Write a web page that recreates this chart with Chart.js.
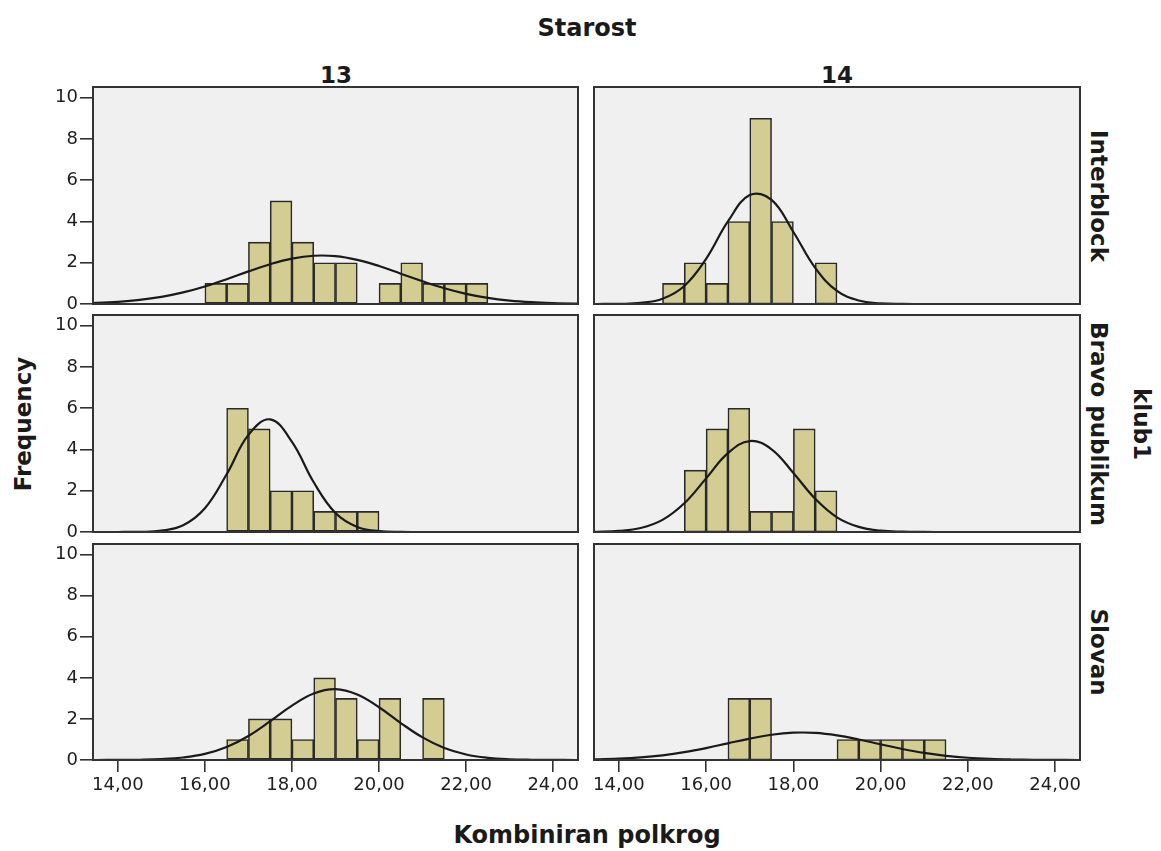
<!DOCTYPE html>
<html>
<head>
<meta charset="utf-8">
<script src="https://cdn.jsdelivr.net/npm/chart.js@4.4.1/dist/chart.umd.min.js"></script>
<style>
  body { margin: 0; background: #fff; width: 1161px; height: 851px; position: relative; overflow: hidden;
         font-family: "DejaVu Sans", sans-serif; color: #1a1a1a; }
  canvas { position: absolute; }
  .lbl { position: absolute; font-weight: bold; white-space: nowrap; line-height: 1;
         transform: translate(-50%, -50%); }
  .cw { transform: translate(-50%, -50%) rotate(90deg); }
  .ccw { transform: translate(-50%, -50%) rotate(-90deg); }
</style>
</head>
<body>
<div class="lbl" style="left:587px; top:28px; font-size:24px">Starost</div>
<div class="lbl" id="col0" style="left:336px; top:75px; font-size:23px"></div>
<div class="lbl" id="col1" style="left:837px; top:75px; font-size:23px"></div>
<div class="lbl cw" id="row0" style="left:1098px; top:196px; font-size:23px"></div>
<div class="lbl cw" id="row1" style="left:1098px; top:424px; font-size:23px"></div>
<div class="lbl cw" id="row2" style="left:1098px; top:652px; font-size:23px"></div>
<div class="lbl cw" style="left:1141px; top:424px; font-size:23px">klub1</div>
<div class="lbl ccw" style="left:23px; top:424px; font-size:23px">Frequency</div>
<div class="lbl" style="left:587px; top:835px; font-size:24px">Kombiniran polkrog</div>

<script>
// facets
const ageGroups = ['13', '14'];
const clubs = ['Interblock', 'Bravo publikum', 'Slovan'];

// histogram bins (left edges), width 0.5
const binStarts = [15.0, 15.5, 16.0, 16.5, 17.0, 17.5, 18.0, 18.5, 19.0, 19.5, 20.0, 20.5, 21.0, 21.5, 22.0];
const binWidth = 0.5;

// frequencies per bin
const interblock13 = [0, 0, 1, 1, 3, 5, 3, 2, 2, 0, 1, 2, 1, 1, 1];
const interblock14 = [1, 2, 1, 4, 9, 4, 0, 2, 0, 0, 0, 0, 0, 0, 0];
const bravo13      = [0, 0, 0, 6, 5, 2, 2, 1, 1, 1, 0, 0, 0, 0, 0];
const bravo14      = [0, 3, 5, 6, 1, 1, 5, 2, 0, 0, 0, 0, 0, 0, 0];
const slovan13     = [0, 0, 0, 1, 2, 2, 1, 4, 3, 1, 3, 0, 3, 0, 0];
const slovan14     = [0, 0, 0, 3, 3, 0, 0, 0, 1, 1, 1, 1, 1, 0, 0];

// normal curve
const curveX = [13.0, 13.5, 14.0, 14.5, 15.0, 15.5, 16.0, 16.5, 17.0, 17.5, 18.0, 18.5, 19.0,
                19.5, 20.0, 20.5, 21.0, 21.5, 22.0, 22.5, 23.0, 23.5, 24.0, 24.5, 25.0];
const interblock13Curve = [0.024, 0.053, 0.106, 0.198, 0.346, 0.562, 0.851, 1.20, 1.58, 1.93, 2.20, 2.34, 2.32,
                           2.14, 1.84, 1.47, 1.10, 0.763, 0.494, 0.298, 0.168, 0.088, 0.043, 0.019, 0.008];
const interblock14Curve = [0, 0.001, 0.008, 0.052, 0.251, 0.872, 2.19, 4.00, 5.28, 5.05, 3.49, 1.75, 0.635,
                           0.167, 0.032, 0.004, 0, 0, 0, 0, 0, 0, 0, 0, 0];
const bravo13Curve      = [0, 0, 0.001, 0.008, 0.063, 0.323, 1.15, 2.80, 4.71, 5.46, 4.37, 2.41, 0.917,
                           0.240, 0.043, 0.005, 0, 0, 0, 0, 0, 0, 0, 0, 0];
const bravo14Curve      = [0.002, 0.010, 0.051, 0.194, 0.586, 1.39, 2.60, 3.82, 4.41, 4.01, 2.86, 1.61, 0.711,
                           0.247, 0.067, 0.014, 0.002, 0, 0, 0, 0, 0, 0, 0, 0];
const slovan13Curve     = [0, 0.001, 0.004, 0.013, 0.043, 0.121, 0.296, 0.631, 1.17, 1.89, 2.65, 3.24, 3.45,
                           3.19, 2.57, 1.80, 1.10, 0.581, 0.268, 0.107, 0.037, 0.011, 0.003, 0.001, 0];
const slovan14Curve     = [0.012, 0.029, 0.063, 0.126, 0.228, 0.380, 0.580, 0.813, 1.04, 1.23, 1.33, 1.32, 1.20,
                           1.00, 0.765, 0.537, 0.345, 0.204, 0.110, 0.055, 0.025, 0.010, 0.004, 0.001, 0];

// axes
const xTicks = [14, 16, 18, 20, 22, 24];
const yTicks = [0, 2, 4, 6, 8, 10];
const xMin = 13.43, xMax = 24.57;
const yMax = 10.52;

const panels = [
  { row: 0, col: 0, counts: interblock13, curve: interblock13Curve },
  { row: 0, col: 1, counts: interblock14, curve: interblock14Curve },
  { row: 1, col: 0, counts: bravo13, curve: bravo13Curve },
  { row: 1, col: 1, counts: bravo14, curve: bravo14Curve },
  { row: 2, col: 0, counts: slovan13, curve: slovan13Curve },
  { row: 2, col: 1, counts: slovan14, curve: slovan14Curve }
];

document.getElementById('col0').textContent = ageGroups[0];
document.getElementById('col1').textContent = ageGroups[1];
clubs.forEach((c, i) => { document.getElementById('row' + i).textContent = c; });

// panel geometry (plot area in page pixels)
const colLeft = [93, 594], colRight = [578, 1080];
const rowTop = [87, 315, 544], rowBottom = [304, 532, 760];
const PAD = 16, Y_W = 62, X_H = 50;

Chart.defaults.font.family = "'DejaVu Sans', sans-serif";
Chart.defaults.font.size = 18;
Chart.defaults.color = '#222';

const panelBox = {
  id: 'panelBox',
  beforeDatasetsDraw(chart) {
    const { ctx, chartArea: a } = chart;
    ctx.save();
    ctx.fillStyle = '#f0f0f0';
    ctx.fillRect(a.left, a.top, a.width, a.height);
    ctx.restore();
  },
  afterDraw(chart) {
    const { ctx, chartArea: a } = chart;
    ctx.save();
    ctx.strokeStyle = '#333';
    ctx.lineWidth = 2;
    ctx.strokeRect(a.left, a.top, a.width, a.height);
    ctx.restore();
  }
};

panels.forEach(function(p) {
  const hasY = p.col === 0, hasX = p.row === 2;
  const w = colRight[p.col] - colLeft[p.col];
  const h = rowBottom[p.row] - rowTop[p.row];
  const cw = w + 2 * PAD + (hasY ? Y_W : 0);
  const ch = h + 2 * PAD + (hasX ? X_H : 0);

  const cv = document.createElement('canvas');
  cv.width = cw; cv.height = ch;
  cv.style.width = cw + 'px'; cv.style.height = ch + 'px';
  cv.style.left = (colLeft[p.col] - PAD - (hasY ? Y_W : 0)) + 'px';
  cv.style.top = (rowTop[p.row] - PAD) + 'px';
  document.body.appendChild(cv);

  const bars = binStarts.map((b, i) => ({ x: b + binWidth / 2, y: p.counts[i] || null }));
  const line = curveX.map((x, i) => ({ x: x, y: p.curve[i] }));

  new Chart(cv, {
    type: 'bar',
    data: {
      datasets: [
        {
          type: 'bar',
          data: bars,
          backgroundColor: '#d3cd93',
          borderColor: '#2a2a2a',
          borderWidth: 1.6,
          borderSkipped: false,
          barPercentage: 1,
          categoryPercentage: 1,
          order: 2
        },
        {
          type: 'line',
          data: line,
          borderColor: '#1a1a1a',
          borderWidth: 2.2,
          pointRadius: 0,
          tension: 0.4,
          fill: false,
          order: 1
        }
      ]
    },
    options: {
      responsive: false,
      animation: false,
      layout: { padding: PAD },
      plugins: { legend: { display: false }, tooltip: { enabled: false } },
      scales: {
        x: {
          type: 'linear',
          min: xMin, max: xMax,
          offset: false,
          display: hasX,
          afterBuildTicks: s => { s.ticks = xTicks.map(v => ({ value: v })); },
          afterFit: s => { s.height = hasX ? X_H : 0; },
          grid: { offset: false, drawOnChartArea: false, tickLength: 12, color: '#333', lineWidth: 1.6 },
          border: { display: false },
          ticks: { padding: 3, maxRotation: 0, color: '#1e1e1e', callback: v => v.toFixed(2).replace('.', ',') }
        },
        y: {
          min: 0, max: yMax,
          display: hasY,
          afterBuildTicks: s => { s.ticks = yTicks.map(v => ({ value: v })); },
          afterFit: s => { s.width = hasY ? Y_W : 0; },
          grid: { drawOnChartArea: false, tickLength: 13, color: '#333', lineWidth: 1.6 },
          border: { display: false },
          ticks: { padding: 2, color: '#1e1e1e' }
        }
      }
    },
    plugins: [panelBox]
  });
});
</script>
</body>
</html>
